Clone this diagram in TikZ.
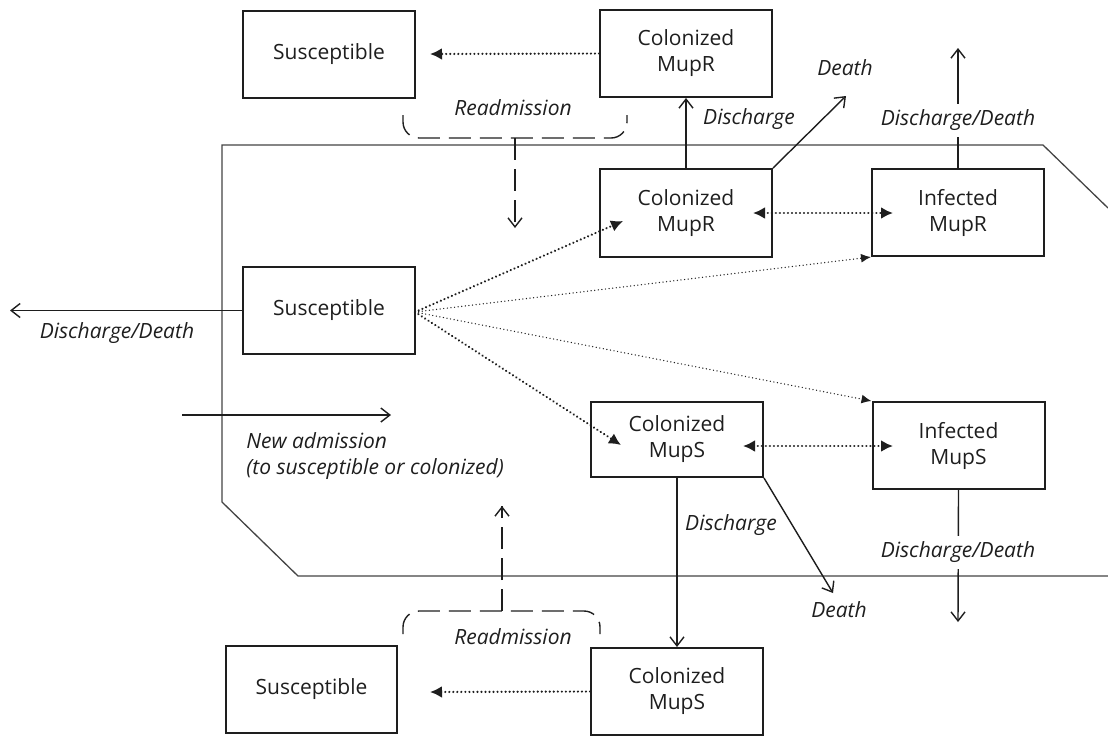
\documentclass[tikz,border=0pt]{standalone}
\usepackage{fontspec}
\setmainfont{Open Sans}
\usetikzlibrary{arrows.meta,calc}
\definecolor{ink}{HTML}{1E1E1E}
\definecolor{edge}{HTML}{444444}
\begin{document}
\begin{tikzpicture}[x=0.5pt,y=-0.5pt,
 box/.style={draw=ink, line width=1pt, minimum width=86pt, minimum height=43.5pt, inner sep=0pt, align=center, text=ink, font=\fontsize{10.5}{13}\selectfont},
 lbl/.style={font=\fontsize{10.5}{13}\selectfont\itshape, text=ink, inner sep=1pt},
 flow/.style={draw=ink, line width=0.7pt, -{Straight Barb[length=4.5pt,width=7pt]}},
 dflow/.style={draw=ink, line width=0.7pt, dash pattern=on 11pt off 4.5pt},
 dotmain/.style={draw=ink, line width=1.2pt, dash pattern=on 0.01pt off 2pt, line cap=round},
 dotthin/.style={draw=ink, line width=0.7pt, dash pattern=on 0.01pt off 1.8pt, line cap=round},
 tip/.style={-{Latex[length=6pt,width=6pt]}},
 tipthin/.style={-{Latex[length=5pt,width=4.5pt]}},
 tips/.style={{Latex[length=6pt,width=6pt]}-{Latex[length=6pt,width=6pt]}},
 border/.style={draw=edge, line width=0.65pt}
]
\useasboundingbox (0,0) rectangle (1108,736);

% boundary of the hospital
\draw[border] (1108,208) -- (1043,145) -- (222,145) -- (222,502) -- (298,576) -- (1108,576);

% boxes
\node[box] (sT) at (329,54.5) {Susceptible};
\node[box] (cRt) at (686,53.5) {Colonized\\MupR};
\node[box, minimum height=44pt] (cR) at (686,213) {Colonized\\MupR};
\node[box] (iR) at (958,212.5) {Infected\\MupR};
\node[box] (sM) at (329,310.5) {Susceptible};
\node[box, minimum height=37.5pt] (cS) at (677,439.5) {Colonized\\MupS};
\node[box] (iS) at (958.5,445.5) {Infected\\MupS};
\node[box] (cSb) at (677,691.5) {Colonized\\MupS};
\node[box, minimum width=85.5pt] (sB) at (311.5,689) {Susceptible};

% free ends
\coordinate (tT) at (430,54);
\coordinate (tB) at (430,692);
\coordinate (dR) at (846,96);
\coordinate (ddR) at (958,48);
\coordinate (dS) at (833,593);
\coordinate (ddS) at (958,622);
\coordinate (ddL) at (10,310.5);
\coordinate (naA) at (182,415);
\coordinate (naB) at (391,415);
\coordinate (o) at (415,312);
\coordinate (rT) at (515,138);
\coordinate (rTe) at (515,228);
\coordinate (rB) at (502,611);
\coordinate (rBe) at (502,506);

% readmission (top)
\draw[dotmain, tip] (cRt.west) -- (tT);
\draw[dflow, rounded corners=8pt] (403,115) -- (403,138) -- (627,138) -- (627,115);
\draw[dflow] (rT) -- (rTe);
\draw[flow] ($(rTe)+(0,-2)$) -- (rTe);
\node[lbl] (lRT) at (513,108) {Readmission};

% MupR discharge/death
\draw[flow] (cR.north) -- (cRt.south);
\node[lbl] (lDisR) at (749,119) {Discharge};
\draw[flow] (cR.north east) -- (dR);
\node[lbl] (lDeR) at (845,68) {Death};
\draw[flow] (iR.north) -- (ddR);
\node[lbl, fill=white, inner sep=3pt] (lDDR) at (958,120) {Discharge/Death};

% colonization / infection
\draw[dotmain, tips] (753,213) -- (893,213);
\draw[dotmain, tip] (o) -- (623,221);
\draw[dotthin, tipthin] (o) -- (iR.south west);
\draw[dotthin, tipthin] (o) -- (iS.north west);
\draw[dotmain, tip] (o) -- (621,445);
\draw[dotmain, tips] (743,446) -- (893,446);

% susceptible exit and new admission
\draw[flow] (sM.west) -- (ddL);
\node[lbl] (lDDL) at (117,333) {Discharge/Death};
\draw[flow] (naA) -- (naB);
\node[lbl, anchor=north west, align=left] (lNA) at (244,430) {New admission\\(to susceptible or colonized)};

% MupS discharge/death
\draw[flow] (cS.south) -- (cSb.north);
\node[lbl] (lDisS) at (731,525) {Discharge};
\draw[flow] (cS.south east) -- (dS);
\node[lbl] (lDeS) at (839,610) {Death};
\draw[flow] (iS.south) -- (ddS);
\node[lbl, fill=white, inner sep=3pt] (lDDS) at (958,552) {Discharge/Death};

% readmission (bottom)
\draw[dotmain, tip] (cSb.west) -- (tB);
\draw[dflow, rounded corners=8pt] (403,634) -- (403,611) -- (600,611) -- (600,634);
\draw[dflow] (rB) -- (rBe);
\draw[flow] ($(rBe)+(0,2)$) -- (rBe);
\node[lbl] (lRB) at (513,637) {Readmission};
\end{tikzpicture}
\end{document}
